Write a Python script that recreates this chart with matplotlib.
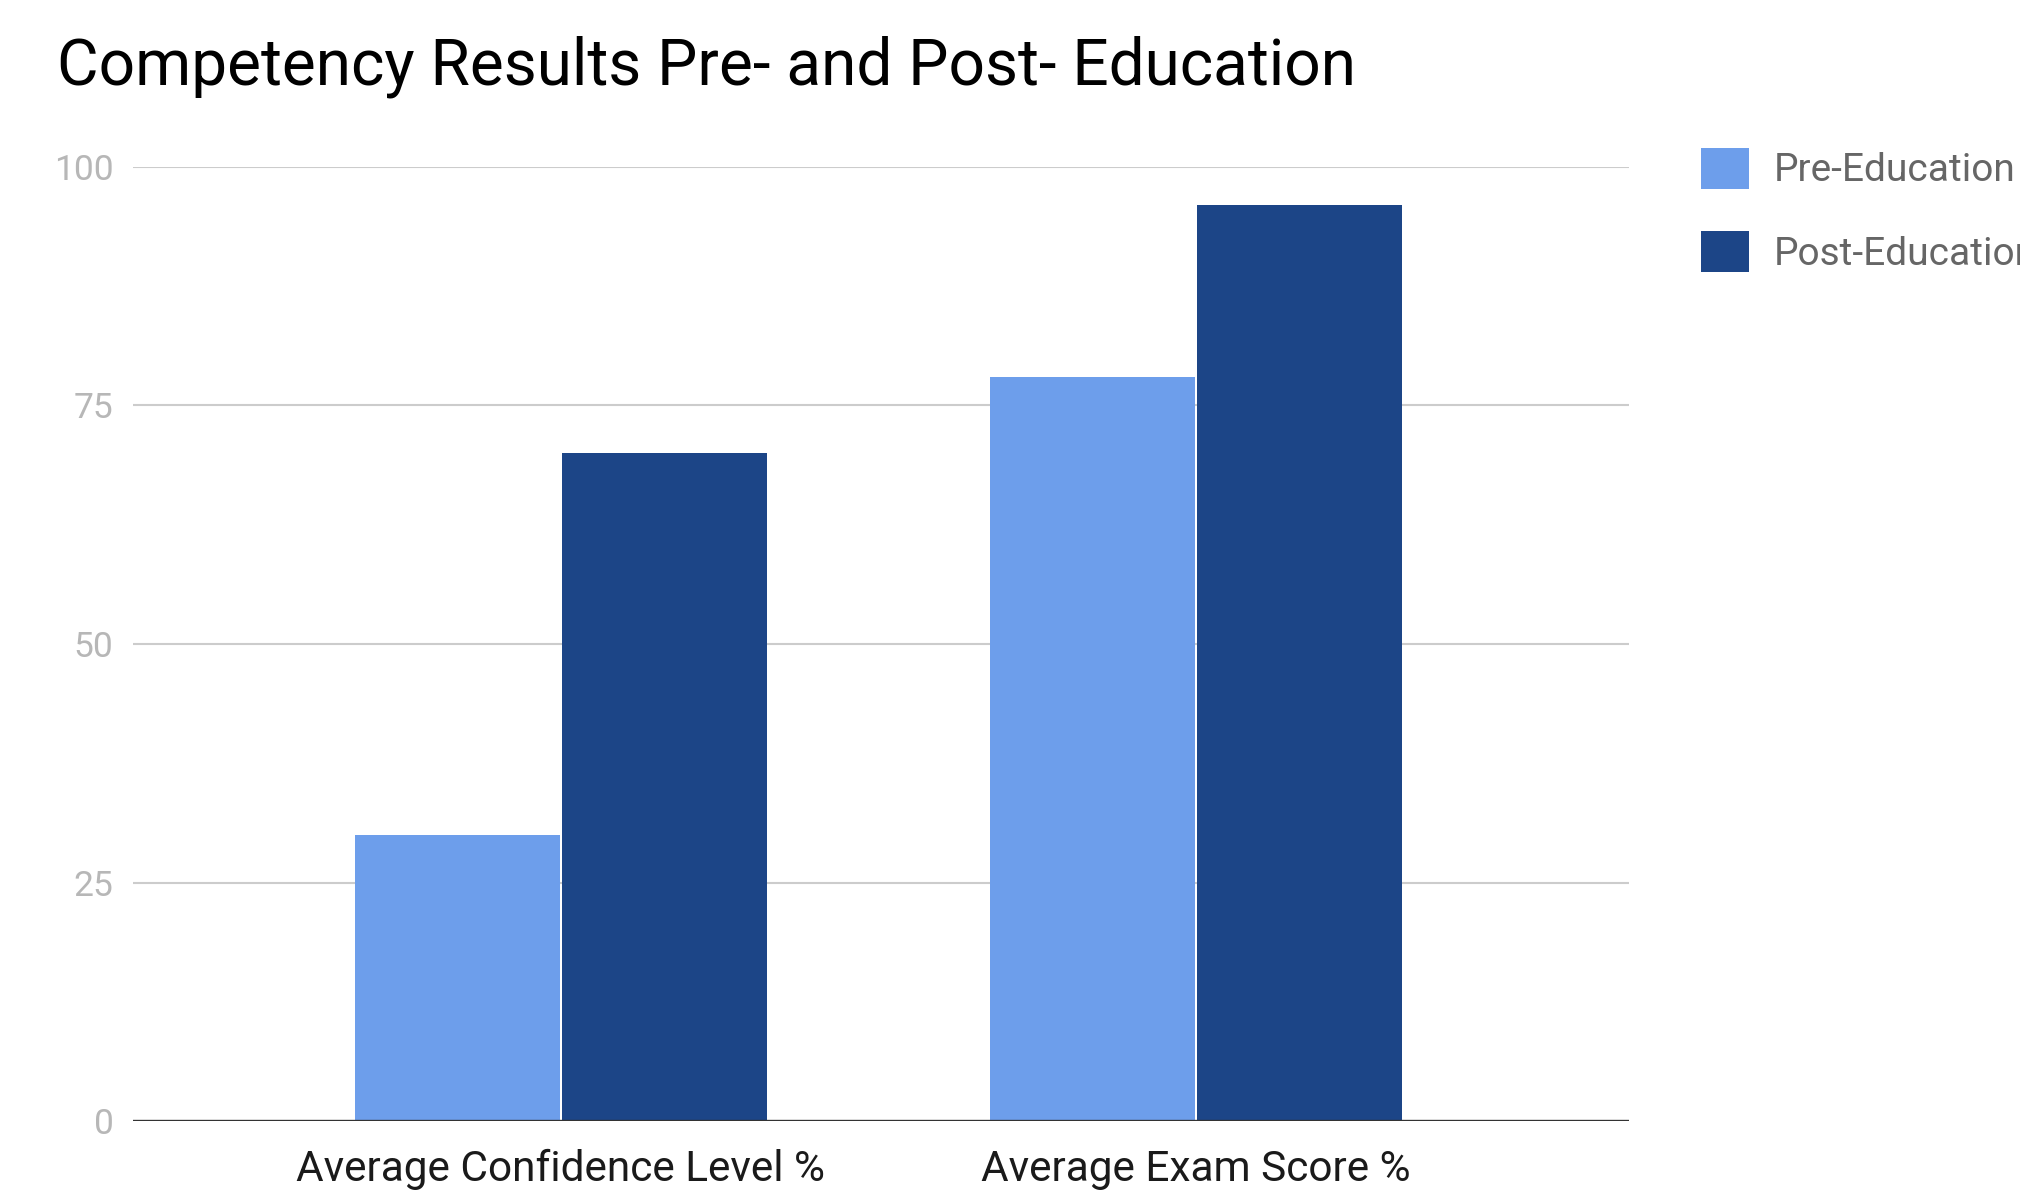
import matplotlib
matplotlib.use("Agg")
import matplotlib.pyplot as plt
import numpy as np

categories = ["Average Confidence Level %", "Average Exam Score %"]
series_names = ["Pre-Education", "Post-Education"]
pre_values = [30, 78]
post_values = [70, 96]
y_ticks = [0, 25, 50, 75, 100]
title = "Competency Results Pre- and Post- Education"

plt.rcParams['font.family'] = ['Roboto', 'DejaVu Sans']

W, H = 2020, 1190
fig = plt.figure(figsize=(W / 100, H / 100), dpi=100)
ax = fig.add_axes([133 / W, 1 - 1121 / H, (1629 - 133) / W, (1121 - 167) / H])

x = np.arange(len(categories))
bw = 0.322
off = 0.163
b1 = ax.bar(x - off, pre_values, bw, color="#6D9EEB", zorder=3, label=series_names[0])
b2 = ax.bar(x + off, post_values, bw, color="#1C4587", zorder=3, label=series_names[1])

ax.set_xlim(-0.674, 1.682)
ax.set_ylim(0, 100)
ax.set_yticks(y_ticks)
ax.set_yticklabels([str(v) for v in y_ticks])
ax.set_xticks(x)
ax.set_xticklabels(categories)
ax.grid(axis='y', color="#CCCCCC", linewidth=1.5, zorder=0)
ax.axhline(0, color="#333333", linewidth=2.4, zorder=4)
for s in ax.spines.values():
    s.set_visible(False)
ax.tick_params(axis='y', length=0, pad=14, labelsize=25.5, labelcolor="#B7B7B7")
ax.tick_params(axis='x', length=0, pad=20, labelsize=30.5, labelcolor="#1a1a1a")

fig.text(57 / W, 1 - 84 / H, title, fontsize=46, color="#000000", va='baseline', ha='left')

leg = ax.legend(handles=[b1, b2], labels=series_names, loc='upper left',
                bbox_to_anchor=(1701 / W, 1 - 148 / H), bbox_transform=fig.transFigure,
                frameon=False, fontsize=28, handlelength=1.23, handleheight=1.23,
                handletextpad=0.64, labelspacing=1.08, borderpad=0, borderaxespad=0)
for t in leg.get_texts():
    t.set_color("#666666")

fig.savefig("out.png", dpi=100)
